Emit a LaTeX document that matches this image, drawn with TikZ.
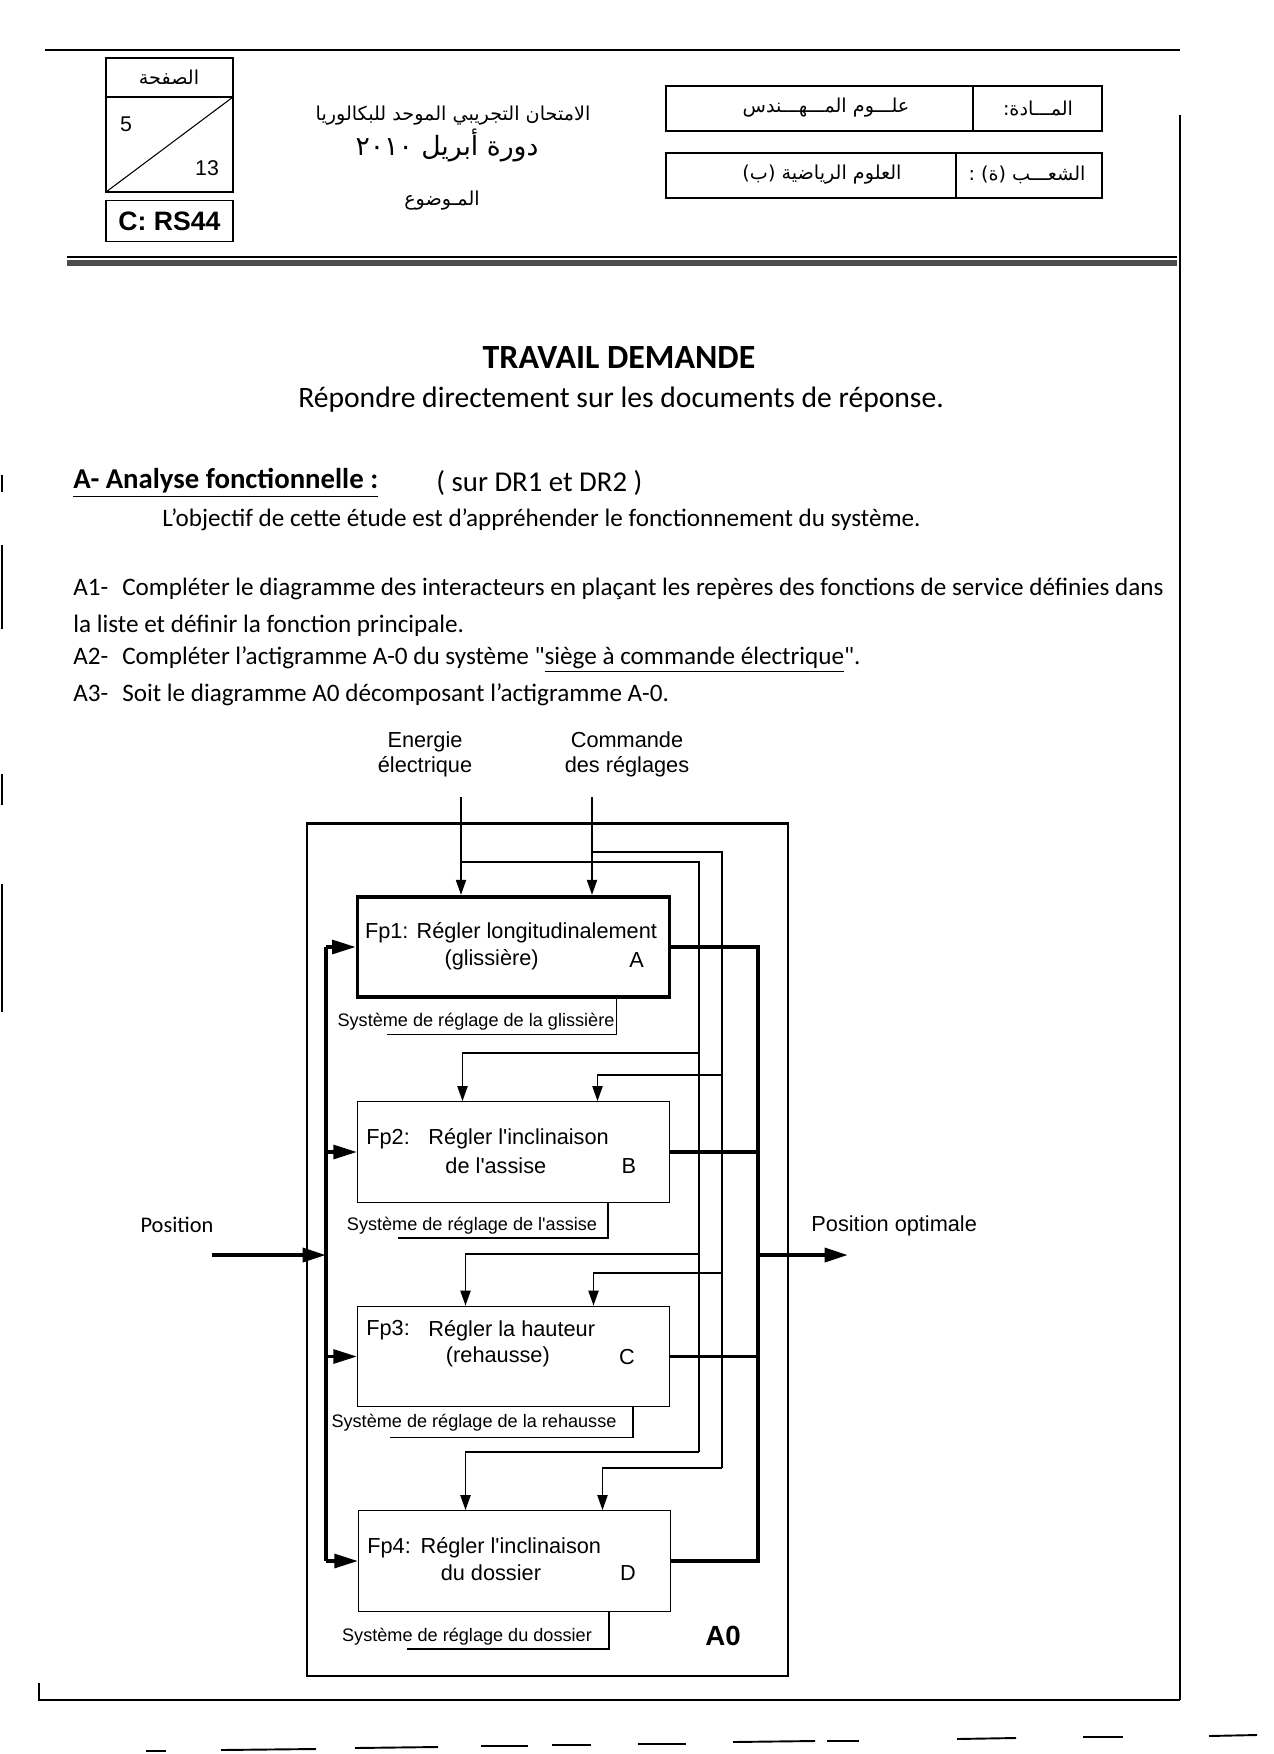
\documentclass[tikz,border=0pt]{standalone}
\usepackage{fontspec}
\setmainfont{Carlito}[Ligatures=TeXOff]
\newfontfamily\arialfont{Liberation Sans}
\newfontfamily\arabicfont[Script=Arabic]{DejaVu Sans}
\TeXXeTstate=1
\usetikzlibrary{arrows.meta, positioning, calc}

\newcommand{\artxt}[1]{{\arabicfont\beginR #1\endR}}

\begin{document}
\begin{tikzpicture}[x=0.016496cm, y=-0.016496cm, >=Stealth]
\useasboundingbox (0,0) rectangle (1273,1754);

% --- Style Definitions ---
% function boxes of the A0 diagram
\tikzstyle{fp_box}=[draw, line width=0.6pt, minimum width=146.4pt, minimum height=47.2pt, inner sep=0pt]
\tikzstyle{fp_box_main}=[fp_box, line width=1.8pt]
\tikzstyle{fp_text}=[font=\arialfont\fontsize{10.2}{12}\selectfont, inner sep=0pt, anchor=west]
\tikzstyle{meca_text}=[font=\arialfont\fontsize{8.5}{10}\selectfont, inner sep=0pt]
\tikzstyle{label_text}=[font=\arialfont\fontsize{10.2}{11.7}\selectfont, inner sep=0pt, align=center]
\tikzstyle{a0_frame}=[draw, line width=1pt, minimum width=225.9pt, minimum height=399.9pt, inner sep=0pt]
% texts of the page
\tikzstyle{body_text}=[font=\fontsize{11.8}{14}\selectfont, inner sep=0pt, anchor=west]
\tikzstyle{head_text}=[font=\arialfont\fontsize{10}{12}\selectfont, inner sep=0pt]
\tikzstyle{arab_text}=[font=\fontsize{9}{11}\selectfont, inner sep=0pt]

% Arrow Styles
\tikzstyle{in_arrow}=[-{Triangle[length=11pt, width=6.5pt]}, line width=1.5pt]
\tikzstyle{ctrl_arrow}=[-{Triangle[length=7pt, width=4.8pt]}, line width=0.6pt]
\tikzstyle{wire}=[line width=0.6pt]
\tikzstyle{bus}=[line width=1.9pt]

% --- Page frame ---
\draw[line width=0.6pt] (45,50) -- (1180,50);
\draw[line width=0.5pt] (1180,115) -- (1180,1700);
\draw[line width=0.6pt] (39,1683) -- (39,1700) -- (1180,1700);
\draw[line width=0.5pt] (67,257) -- (1177,257);
\fill[black!70] (67,260) rectangle (1177,266);

% --- Header ---
\draw[line width=0.6pt] (106,58) rectangle (233,192);
\draw[line width=0.6pt] (106,97) -- (233,97);
\draw[line width=0.5pt] (106,192) -- (233,97);
\node[arab_text] (page_lbl) at (169,77) {\artxt{الصفحة}};
\node[head_text] (page_num) at (126,124) {5};
\node[head_text] (page_tot) at (207,168) {13};
\node[draw, line width=0.8pt, minimum width=59.4pt, minimum height=19.2pt, inner sep=0pt,
      font=\arialfont\bfseries\fontsize{12.5}{14}\selectfont] (code) at (169.5,221) {C: RS44};

\node[arab_text] (exam) at (453,116) {\artxt{الامتحان التجريبي الموحد للبكالوريا}};
\node[arab_text, font=\fontsize{12.5}{14}\selectfont] (session) at (447,145) {\artxt{دورة أبريل ٢٠١٠}};
\node[arab_text] (subject) at (442,201) {\artxt{المـوضوع}};

\draw[line width=0.5pt] (666,86) rectangle (1102,131);
\draw[line width=0.5pt] (973,86) -- (973,131);
\draw[line width=0.5pt] (666,153) rectangle (1102,198);
\draw[line width=0.5pt] (956,153) -- (956,198);
\node[arab_text] (matiere) at (826,108) {\artxt{علـــوم المـــهـــندس}};
\node[arab_text] (matiere_lbl) at (1038,108) {\artxt{المـــادة:}};
\node[arab_text] (filiere) at (822,175) {\artxt{العلوم الرياضية (ب)}};
\node[arab_text] (filiere_lbl) at (1027,175) {\artxt{الشعـــب (ة) :}};

% --- Questions ---
\node[font=\bfseries\fontsize{15.9}{18}\selectfont, inner sep=0pt] (title) at (619,358) {TRAVAIL DEMANDE};
\node[font=\fontsize{13.9}{16}\selectfont, inner sep=0pt] (subtitle) at (621,400) {Répondre directement sur les documents de réponse.};
\node[body_text, font=\bfseries\fontsize{13.5}{16}\selectfont] (partA) at (73,483) {\underline{A- Analyse fonctionnelle :}};
\node[body_text, font=\fontsize{13.5}{16}\selectfont] (partA_ref) at (436,483) {( sur DR1 et DR2 )};
\node[body_text] (goal) at (162,520) {L’objectif de cette étude est d’appréhender le fonctionnement du système.};
\node[body_text] (qA1) at (73,589) {A1-\hspace{0.55em}Compléter le diagramme des interacteurs en plaçant les repères des fonctions de service définies dans};
\node[body_text] (qA1b) at (73,626) {la liste et définir la fonction principale.};
\node[body_text] (qA2) at (73,660) {A2-\hspace{0.55em}Compléter l’actigramme A-0 du système "\underline{siège à commande électrique}".};
\node[body_text] (qA3) at (73,695) {A3-\hspace{0.55em}Soit le diagramme A0 décomposant l’actigramme A-0.};

% --- A0 diagram ---
\node[a0_frame] (frame) at (547.5,1249.5) {};
\node[font=\arialfont\bfseries\fontsize{13}{15}\selectfont, inner sep=0pt] (a0) at (723,1636) {A0};

\node[fp_box_main] (fpA) at (513.5,947) {};
\node[fp_box] (fpB) at (513.5,1152) {};
\node[fp_box] (fpC) at (513.5,1356.5) {};
\node[fp_box] (fpD) at (514.5,1561) {};

% box texts
\node[fp_text] (fpA_l1) at ($(fpA.north west)+(9,38)$) {Fp1: Régler longitudinalement};
\node[fp_text, anchor=center] (fpA_l2) at ($(fpA.north west)+(136,65)$) {(glissière)};
\node[fp_text, anchor=center] (fpA_id) at ($(fpA.north west)+(281,65)$) {A};

\node[fp_text] (fpB_l0) at ($(fpB.north west)+(9,38)$) {Fp2:};
\node[fp_text] (fpB_l1) at ($(fpB.north west)+(71,38)$) {Régler l'inclinaison};
\node[fp_text, anchor=center] (fpB_l2) at ($(fpB.north west)+(139,65)$) {de l'assise};
\node[fp_text, anchor=center] (fpB_id) at ($(fpB.north west)+(272,65)$) {B};

\node[fp_text] (fpC_l0) at ($(fpC.north west)+(9,25)$) {Fp3:};
\node[fp_text] (fpC_l1) at ($(fpC.north west)+(71,25)$) {Régler la hauteur};
\node[fp_text, anchor=center] (fpC_l2) at ($(fpC.north west)+(141,51)$) {(rehausse)};
\node[fp_text, anchor=center] (fpC_id) at ($(fpC.north west)+(270,51)$) {C};

\node[fp_text] (fpD_l1) at ($(fpD.north west)+(9,38)$) {Fp4:\hspace{0.45em}Régler l'inclinaison};
\node[fp_text, anchor=center] (fpD_l2) at ($(fpD.north west)+(133,63)$) {du dossier};
\node[fp_text, anchor=center] (fpD_id) at ($(fpD.north west)+(270,63)$) {D};

% mechanisms
\node[meca_text] (mecaA) at (476,1022) {Système de réglage de la glissière};
\node[meca_text] (mecaB) at (472,1226) {Système de réglage de l'assise};
\node[meca_text] (mecaC) at (474,1423) {Système de réglage de la rehausse};
\node[meca_text] (mecaD) at (467,1637) {Système de réglage du dossier};
\draw[wire] ($(fpA.south west)+(261,0)$) -- ++(0,35) -- ++(-230,0);
\draw[wire] ($(fpB.south west)+(251,0)$) -- ++(0,35) -- ++(-210,0);
\draw[wire] ($(fpC.south west)+(276,0)$) -- ++(0,30) -- ++(-243,0);
\draw[wire] ($(fpD.south west)+(251,0)$) -- ++(0,37) -- ++(-202,0);

% controls: energy and commands
\node[label_text] (energie) at (425,754) {Energie\\électrique};
\node[label_text] (commande) at (627,754) {Commande\\des réglages};
\coordinate (enIn) at (461,797);
\coordinate (cmIn) at (592,797);
\coordinate (enRail) at (699,862);
\coordinate (cmRail) at (722,852);
\coordinate (enRailEnd) at (699,1452);
\coordinate (cmRailEnd) at (722,1468);
\coordinate (enB) at (699,1053);
\coordinate (cmB) at (722,1075);
\coordinate (enC) at (699,1254);
\coordinate (cmC) at (722,1273);

\draw[ctrl_arrow] (enIn) -- (enIn |- fpA.north);
\draw[ctrl_arrow] (cmIn) -- (cmIn |- fpA.north);
\draw[wire] (enIn |- enRail) -- (enRail) -- (enRailEnd);
\draw[wire] (cmIn |- cmRail) -- (cmRail) -- (cmRailEnd);
\draw[ctrl_arrow] (enB) -| ($(fpB.north)+(-51,0)$);
\draw[ctrl_arrow] (cmB) -| ($(fpB.north)+(84,0)$);
\draw[ctrl_arrow] (enC) -| ($(fpC.north)+(-48,0)$);
\draw[ctrl_arrow] (cmC) -| ($(fpC.north)+(80,0)$);
\draw[ctrl_arrow] (enRailEnd) -| ($(fpD.north)+(-49,0)$);
\draw[ctrl_arrow] (cmRailEnd) -| ($(fpD.north)+(88,0)$);

% input: position
\node[font=\fontsize{10.5}{12}\selectfont, inner sep=0pt] (pos) at (177,1225) {Position};
\coordinate (posIn) at (212,1255);
\coordinate (busX) at (326,0);
\draw[in_arrow, line width=1.9pt] (posIn) -- (posIn -| busX);
\draw[bus] (fpA.west -| busX) -- (fpD.west -| busX);
\draw[in_arrow] (fpA.west -| busX) -- (fpA.west);
\draw[in_arrow] (fpB.west -| busX) -- (fpB.west);
\draw[in_arrow] (fpC.west -| busX) -- (fpC.west);
\draw[in_arrow] (fpD.west -| busX) -- (fpD.west);

% output: optimal position
\coordinate (outX) at (758,0);
\coordinate (posOut) at (848,1255);
\draw[bus] (fpA.east) -| (fpD.east -| outX) -- (fpD.east);
\draw[bus, line width=1.6pt] (fpB.east) -- (fpB.east -| outX);
\draw[bus, line width=1.6pt] (fpC.east) -- (fpC.east -| outX);
\draw[in_arrow, line width=1.9pt] (posOut -| outX) -- (posOut);
\node[label_text, anchor=west] (posOpt) at (811,1226) {Position optimale};

% scan marks at the page edges
\draw[line width=1.2pt] (2,475) -- (2,492);
\draw[line width=1.2pt] (2,545) -- (2,629);
\draw[line width=1.2pt] (2,774) -- (2,805);
\draw[line width=1.2pt] (2,884) -- (2,1012);
\draw[line width=0.9pt] (146,1751) -- (166,1751);
\draw[line width=0.9pt] (221,1750) -- (316,1749);
\draw[line width=0.9pt] (355,1748) -- (438,1747);
\draw[line width=0.9pt] (481,1746) -- (528,1746);
\draw[line width=0.9pt] (552,1745) -- (591,1745);
\draw[line width=0.9pt] (638,1744) -- (686,1744);
\draw[line width=0.9pt] (733,1742) -- (815,1741);
\draw[line width=0.9pt] (827,1741) -- (859,1741);
\draw[line width=0.9pt] (957,1739) -- (1016,1738);
\draw[line width=0.9pt] (1083,1737) -- (1123,1737);
\draw[line width=0.9pt] (1209,1736) -- (1257,1735);

\end{tikzpicture}
\end{document}
